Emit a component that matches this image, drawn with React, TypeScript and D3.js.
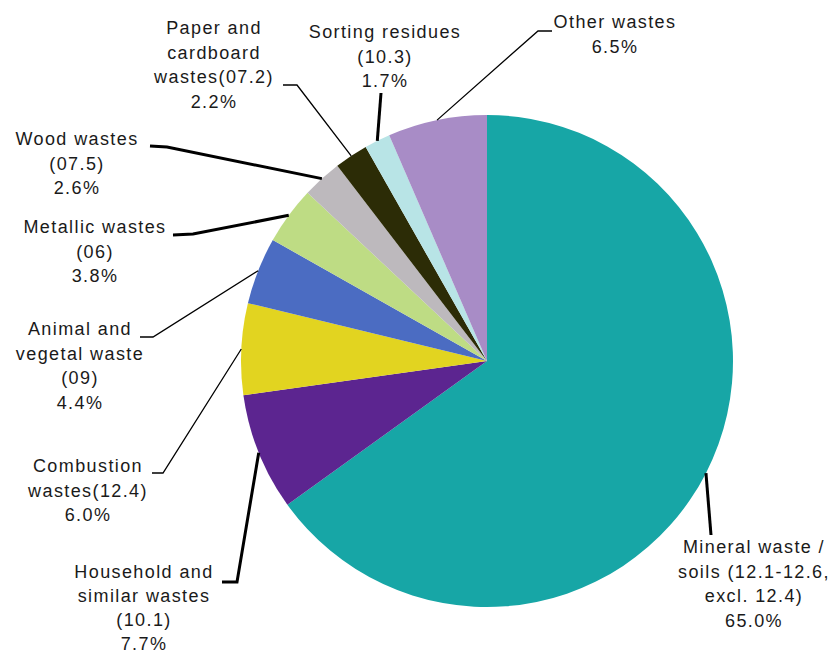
import React from "react";
import * as d3 from "d3";

const categories = [
  "Mineral waste / soils",
  "Household and similar wastes",
  "Combustion wastes",
  "Animal and vegetal waste",
  "Metallic wastes",
  "Wood wastes",
  "Paper and cardboard wastes",
  "Sorting residues",
  "Other wastes",
];
const values = [65.0, 7.7, 6.0, 4.4, 3.8, 2.6, 2.2, 1.7, 6.5];
const labelLines = [
  ["Mineral waste /", "soils (12.1-12.6,", "excl. 12.4)", "65.0%"],
  ["Household and", "similar wastes", "(10.1)", "7.7%"],
  ["Combustion", "wastes(12.4)", "6.0%"],
  ["Animal and", "vegetal waste", "(09)", "4.4%"],
  ["Metallic wastes", "(06)", "3.8%"],
  ["Wood wastes", "(07.5)", "2.6%"],
  ["Paper and", "cardboard", "wastes(07.2)", "2.2%"],
  ["Sorting residues", "(10.3)", "1.7%"],
  ["Other wastes", "6.5%"],
];
const colors = [
  "#17a6a6",
  "#5c2590",
  "#e2d420",
  "#4b6cc2",
  "#bedc84",
  "#bdb9bd",
  "#2c2c06",
  "#b8e4e6",
  "#a88cc6",
];

// layout: label anchor (center x, first baseline), line spacing, leader elbow & tick end, thickness
const layout = [
  { lx: 754, ly: 553, lh: 24.5, elbow: [711, 535], tick: null, w: 3 },
  { lx: 144, ly: 578, lh: 24, elbow: [237, 582], tick: [222, 582], w: 3 },
  { lx: 88, ly: 472, lh: 24.5, elbow: [163, 473], tick: [152, 473], w: 1.3 },
  { lx: 80, ly: 335, lh: 24.5, elbow: [153, 337], tick: [140, 337], w: 1.3 },
  { lx: 95, ly: 233, lh: 24.5, elbow: [193, 234], tick: [173, 235], w: 3 },
  { lx: 77, ly: 145, lh: 24.5, elbow: [167, 147], tick: [150, 146], w: 3 },
  { lx: 214, ly: 34, lh: 24.5, elbow: [297, 85], tick: [283, 85], w: 1.3 },
  { lx: 385, ly: 38, lh: 24.5, elbow: [381, 93], tick: null, w: 3 },
  { lx: 615, ly: 28, lh: 24.5, elbow: [538, 31], tick: [552, 31], w: 1.3 },
];

const CX = 487;
const CY = 361;
const R = 246;

export default function App() {
  const pie = d3
    .pie<number>()
    .sort(null)
    .value((d) => d);
  const arcs = pie(values);
  const arc = d3.arc<d3.PieArcDatum<number>>().innerRadius(0).outerRadius(R);

  return (
    <svg
      width={830}
      height={655}
      style={{ position: "absolute", left: 0, top: 0, background: "#fff" }}
      fontFamily="'Liberation Sans', Arial, sans-serif"
      fontSize={18}
    >
      <g transform={`translate(${CX},${CY})`}>
        {arcs.map((a, i) => (
          <path key={categories[i]} d={arc(a) || ""} fill={colors[i]} />
        ))}
      </g>
      {arcs.map((a, i) => {
        const mid = (a.startAngle + a.endAngle) / 2;
        const ex = CX + R * Math.sin(mid);
        const ey = CY - R * Math.cos(mid);
        const L = layout[i];
        const pts: [number, number][] = [[ex, ey], L.elbow as [number, number]];
        if (L.tick) pts.push(L.tick as [number, number]);
        const line = d3.line()(pts) || "";
        return (
          <path
            key={"l" + i}
            d={line}
            fill="none"
            stroke="#000"
            strokeWidth={L.w}
            strokeLinejoin="miter"
          />
        );
      })}
      {labelLines.map((lines, i) => (
        <text
          key={"t" + i}
          x={layout[i].lx}
          y={layout[i].ly}
          textAnchor="middle"
          fill="#1a1a1a"
          letterSpacing={1.4}
        >
          {lines.map((s, j) => (
            <tspan key={j} x={layout[i].lx} y={layout[i].ly + j * layout[i].lh}>
              {s}
            </tspan>
          ))}
        </text>
      ))}
    </svg>
  );
}
